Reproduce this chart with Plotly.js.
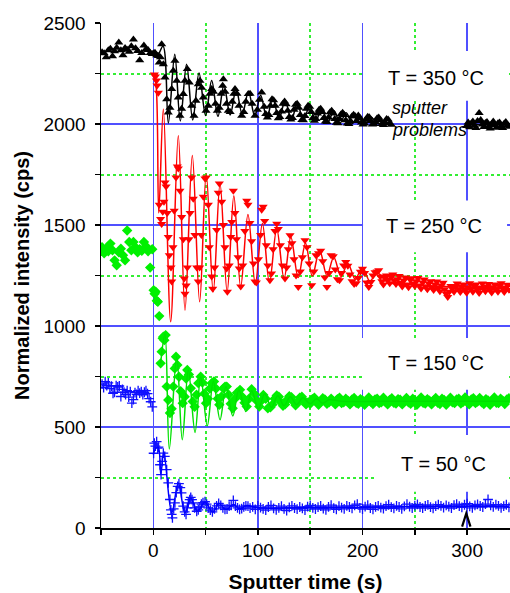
<!DOCTYPE html>
<html><head><meta charset="utf-8">
<script src="https://cdn.plot.ly/plotly-3.0.1.min.js"></script>
<style>html,body{margin:0;padding:0;background:#fff;} #chart{width:510px;height:593px;}</style>
</head><body><div id="chart"></div>
<script>
// ---------- DATA ----------
// sampling grid helper for regularly sampled stretches of a depth profile
function steps(t0, dt, n) { const a = []; for (let i = 0; i < n; i++) a.push(+(t0 + i * dt).toFixed(2)); return a; }

// T = 350 °C
const y350pre = [2355,2350,2330,2365,2372,2335,2360,2378,2403,2365,2340,2376,2368,2358,2385,2418,2375,2362,2315,2352,2388,2370,2366,2352,2346];
const t350osc = [0.5,1.6,3.2,4.8,5.7,6.8,8.0,9.6,11.2,12.8,14.3,15.9,17.6,19.1,20.7,22.4,23.9,25.5,27.1,28.7,30.3,32.5,34.4,36.7,38.9,40.8,43.0,44.6,46.2,47.8,50.4,52.5,54.2,55.8,57.5,59.5,61.2,63.0,64.8,66.3,67.0,68.5,70.0,71.7,73.5,75.5,77.0,78.1,80.0,82.0,84.5,86.5,88.5,90.8,92.5,94.5,97.2,99.5,101.5,103.6];
const y350osc = [2350,2353,2340,2337,2304,2330,2395,2296,2230,2123,2057,2080,2173,2263,2313,2214,2131,2041,2075,2148,2214,2272,2206,2090,2041,2115,2197,2214,2180,2131,2066,2090,2150,2173,2160,2100,2066,2080,2150,2189,2222,2160,2100,2066,2060,2110,2150,2173,2150,2090,2041,2060,2110,2148,2150,2100,2041,2070,2120,2156];
const y350tail = [2085,2050,2032,2045,2090,2122,2118,2090,2055,2028, 2035,2062,2100,2112,2098,2065,2035,2022,2030,2070, 2095,2100,2080,2045,2020,2018,2040,2075,2090,2086, 2060,2030,2016,2025,2052,2070,2076,2060,2030,2012, 2010,2032,2058,2066,2052,2025,2006,2004,2025,2048, 2056,2045,2018,2002,2000,2015,2038,2046,2038,2015, 2042,2030,2008,1998,2002,2022,2036,2034,2015,1998, 2000,2010,2028,2032,2018,2000,1995,2008,2025,2022, 2004,1996];
const y350late = [1990,2008,1984,2002,2012,1992,1980,2015,2054,2020,1998,1985,2005,2010,1988,1978,2000,2012,1995,1982,2004,2008,1990,1980,2002,2010,1994,1986];
const t350fit = [0,3.5,9.3,14.4,20.5,25.8,31.8,37.7,43.7,50.0,55.8,61.8,67.5,73.5,79.2,85.0,91.0,97.0,102.6,108.5,114.3,120.2,126.0,132.0,137.7,143.6,149.4,155.3,161.0,167.0,172.7,178.6,184.4,190.3,196.0,202.0,208.0,214.0,228.0,260,300,340];
const y350fit = [2345,2335,2385,2005,2345,2015,2296,2020,2252,2042,2215,2038,2192,2045,2172,2048,2160,2038,2142,2030,2127,2025,2115,2020,2102,2016,2090,2014,2078,2010,2066,2006,2056,2002,2046,2000,2035,2003,2010,null,1998,1996];

// T = 250 °C
const t250osc = [1.0,2.0,3.0,3.6,4.8,5.7,7.0,8.0,9.0,10.2,11.2,12.2,13.3,14.3,15.3,16.9,17.6,18.8,20.0,21.7,23.0,23.9,25.5,27.1,28.7,29.6,30.3,31.4,32.5,34.1,35.2,36.7,38.2,39.8,41.5,43.0,44.3,46.0,47.8,49.4,50.6,52.6,53.5,55.8,56.8,58.6,60.6,62.1,63.1,65.4,67.0,68.5,70.2,70.8,72.5,74.0,75.0,76.5,78.0,79.5,81.0,82.2,83.6,85.5,87.5,89.3,90.5,92.3,94.0,95.8,97.2,98.5,100.5,102.5,103.6,105.0,106.5,108.0,109.5,111.5,113.0,114.5,116.3,118.0,119.5,121.5,123.5,125.9,127.5,129.0,130.7,132.5,134.5,136.5,138.6,140.5,142.5,145.0,147.0,149.0,151.4,153.5,155.5];
const y250osc = [2245,2235,2215,2190,2155,1600,1530,1505,1565,1615,1710,1690,1560,1440,1350,1290,1220,1390,1570,1735,1790,1780,1670,1540,1430,1235,1160,1200,1290,1430,1560,1735,1630,1450,1290,1220,1290,1450,1640,1730,1735,1600,1390,1245,1185,1290,1475,1660,1705,1615,1500,1390,1285,1170,1300,1440,1515,1670,1560,1430,1340,1285,1195,1300,1470,1620,1600,1510,1420,1310,1220,1215,1330,1450,1575,1590,1520,1400,1300,1226,1260,1380,1470,1506,1480,1400,1300,1235,1290,1380,1449,1410,1330,1250,1193,1270,1340,1424,1390,1310,1202,1270,1350];
const y250mid = [1360,1372,1320,1240,1193,1262,1350,1345,1280,1232,1226,1262,1300,1317,1298,1255,1222,1208,1212,1238,1268,1284,1262,1215,1193,1218,1250,1266,1270];
const y250tail = [1276,1245,1222,1205,1238,1250,1228,1212,1243,1255,1226,1208,
                  1232,1248,1214,1196,1225,1240,1205,1192,1230,1236,1210,1198,
                  1222,1238,1200,1186,1215,1230,1195,1182,1210,1222,1190,1178,
                  1205,1220,1188,1172,1200,1214,1182,1160,1144,1170,1198,1185,
                  1170,1196,1210,1182,1168,1195,1205,1178,1165,1192,1212,1184,
                  1170,1198,1206,1180,1163,1190,1210,1186,1172,1195,1208,1178,
                  1166,1192,1205,1182,1170,1198,1212,1186,1168,1190,1204,1180];
const t250fit = [0,2.5,5.2,9.6,16.6,23.9,30.3,37.3,44.3,50.6,57.3,63.8,70.6,77.0,83.5,90.5,97.5,104.3,111.0,118.0,125.0,131.5,138.5,145.5,152.0,159.0,166.0,172.5,179.5,186.0,193.0,200.0,207.0,214.0,225.0,250,280,310,340];
const y250fit = [2250,2200,1560,2074,1021,1942,1078,1844,1120,1753,1169,1705,1169,1645,1193,1552,1210,1508,1215,1480,1235,1440,1240,1410,1248,1375,1250,1340,1245,1310,1232,1290,1222,1262,1215,1205,1195,1190,1188];

// T = 150 °C
const y150pre = [1390,1360,1385,1370,1408,1375,1325,1301,1365,1383,1350,1325,1473,1416,1375,1416,1390,1365,1380,1372,1416,1395,1370,1289,1380];
const t150osc = [0.3,1.3,2.3,3.3,4.3,5.7,7.0,8.0,9.0,9.6,10.6,11.8,12.8,14.3,15.9,17.5,19.1,20.5,21.7,23.0,24.6,26.2,28.1,30.0,31.3,32.5,34.0,35.8,37.7,39.5,41.3,43.0,45.3,47.0,48.7,50.4,52.2,54.0,55.8,58.0,60.0,61.6,63.1,65.0,67.0,68.6,70.2,72.0,74.0,75.9,78.0,80.0,82.9,85.0,87.2,89.3,91.5,94.0,96.5,98.8,101.3,103.3,105.2,107.5,109.5];
const y150osc = [1177,1160,1170,1125,1120,1049,815,873,939,947,930,955,700,634,569,590,700,790,848,807,749,677,618,650,740,782,760,692,626,600,660,717,749,720,665,618,640,690,717,725,690,640,610,650,690,700,700,660,615,593,640,670,684,650,620,601,640,687,665,630,601,630,659,640,593];
const y150tail = [598,612,640,656,650,622,605,612,635,652, 648,625,608,620,645,650,632,612,622,615,
                  638,645,630,610,625,642,636,615,622,640, 628,612,638,645,618,622,640,630,612,636,
                  644,620,615,638,632,610,628,646,625,614, 636,640,618,622,645,628,612,634,642,620,
                  616,638,635,612,626,644,622,615,640,632, 610,628,646,620,616,638,630,612,632,644,
                  620,614,640,634,610,630,645,622,618,636, 640,616,624,646,628,612,636,642,618,626,
                  644,622,614,638,632,610,630,646,620,618, 640,630,614,636,642];
const t150fit = [7.0,11.2,15.3,22.4,27.7,33.5,39.9,45.3,51.6,57.4,63.8,69.5,76.0,81.8,88.5,94.0,100.5,106.5,113.0,119.0,125.0,131.0,137.0,143.0,150.0,156.0,162.0,168.0,180,220,260,300,340];
const y150fit = [815,960,391,848,437,782,473,749,506,725,536,700,555,684,577,680,590,665,597,655,605,650,610,645,615,640,618,635,627,627,627,627,627];

// T = 50 °C
const y50pre = [712,695,725,705,718,690,702,667,672,705,698,703,651,686,672,660,680,648,675,618,636,670,662,680,668,675,660,672,680,665,640,625,600];
const t50osc = [0.3,1.0,2.0,3.2,4.2,5.0,6.4,7.4,8.5,9.6,11.0,12.8,14.3,15.9,16.8,17.6,18.3,19.5,20.7,22.0,23.3,24.5,25.8,27.0,28.6,30.0,31.3,32.5,33.5,34.8,35.8,37.0,38.0,39.5,41.5,43.0,44.5,46.0,47.5,49.4,51.0,52.5,54.5,56.5,58.5,60.5,62.5,64.5,66.5,68.5,70.5,72.5,74.5,76.5,78.5,80.5,82.5,84.5,86.5,88.5,90.5];
const y50osc = [370,420,405,428,395,400,313,264,330,371,355,289,223,141,90,67,50,95,124,175,206,220,200,174,108,80,67,100,124,140,152,140,124,100,83,90,105,118,125,130,118,100,88,80,95,110,122,112,100,92,94,108,112,137,108,100,92,96,105,110,108];
const y50tail = [98,105,92,110,101,95,88,104,112,97, 90,100,108,95,86,102,110,99,93,104, 97,88,106,112,100,94,103,109,96,90, 105,113,98,92,108,101,95,110,104,97, 112,118,100,94,106,113,99,92,105,110, 101,96,108,115,103,97,110,104,95,107, 118,106,99,111,117,104,98,109,114,103, 97,108,116,110,101,112,106,99,113,118, 108,102,115,120,107,100,112,117,109,104, 118,141,112,105,116,110,100,108,115,102];
const t50fit = [0,2.5,4.8,7.2,10.0,17.6,23.9,30.3,35.8,42.1,49.4,56.8,62.8,69.5,76.5,82.9,89.3,100,140,200,260,300,340];
const y50fit = [363,396,398,265,378,75,223,75,149,83,127,78,121,91,116,95,111,100,100,103,106,108,106];

const labels = ['T = 350 °C', 'T = 250 °C', 'T = 150 °C', 'T = 50 °C'];

// ---------- assemble ----------
const t350 = steps(-49, 2, y350pre.length).concat(t350osc, steps(106, 1.5, y350tail.length), steps(299.5, 1.5, y350late.length));
const v350 = y350pre.concat(y350osc, y350tail, y350late);
const t250 = t250osc.concat(steps(158, 2, y250mid.length), steps(215.5, 1.5, y250tail.length));
const v250 = y250osc.concat(y250mid, y250tail);
const t150 = steps(-49, 2, y150pre.length).concat(t150osc, steps(112, 2, y150tail.length));
const v150 = y150pre.concat(y150osc, y150tail);
const t50 = steps(-49, 1.5, y50pre.length).concat(t50osc, steps(92.5, 2.5, y50tail.length));
const v50 = y50pre.concat(y50osc, y50tail);

function pts(x, y, color, symbol, size) {
  return {x, y, type: 'scatter', mode: 'markers', hoverinfo: 'skip',
    marker: {color, symbol, size, line: {width: 0}}};
}
function fit(x, y, color) {
  return {x, y, type: 'scatter', mode: 'lines', hoverinfo: 'skip', connectgaps: false,
    line: {color, width: 1.5, shape: 'spline', smoothing: 1}};
}

const traces = [
  pts(t350, v350, '#000000', 'triangle-up', 8),
  fit(t350fit, y350fit, '#000000'),
  pts(t250, v250, '#ff0000', 'triangle-down', 8),
  fit(t250fit, y250fit, '#ff0000'),
  pts(t150, v150, '#00f000', 'diamond', 8),
  fit(t150fit, y150fit, '#00e000'),
  {x: t50, y: v50, type: 'scatter', mode: 'markers', hoverinfo: 'skip',
   marker: {color: '#1010ff', symbol: 'cross-thin', size: 7, line: {color: '#1010ff', width: 1.3}}},
  fit(t50fit, y50fit, '#0000ff')
];

const FONT = 'Liberation Sans, Arial, sans-serif';
const gridBlue = 'rgb(80,80,255)';
const gridGreen = '#33ee33';

function box(x0, x1, y0, y1) {
  return {type: 'rect', xref: 'x', yref: 'y', x0, x1, y0, y1, fillcolor: '#ffffff', line: {width: 0}, layer: 'between'};
}
function lab(text, x, y, size, anchor) {
  return {text, x, y, xref: 'x', yref: 'y', showarrow: false, xanchor: anchor || 'center', yanchor: 'middle',
    font: {family: FONT, size: size, color: '#000'}};
}

const layout = {
  width: 510, height: 593,
  margin: {l: 101, r: 0, t: 23, b: 65, pad: 0},
  paper_bgcolor: '#fff', plot_bgcolor: '#fff',
  showlegend: false,
  font: {family: FONT, size: 19, color: '#000'},
  xaxis: {
    range: [-50, 341], tickmode: 'linear', tick0: 0, dtick: 100,
    ticks: 'outside', ticklen: 5, tickwidth: 1.5, tickcolor: '#000',
    showline: true, linecolor: '#000', linewidth: 1.5, zeroline: false,
    showgrid: true, gridcolor: gridBlue, gridwidth: 1.3,
    minor: {dtick: 50, tick0: 0, ticks: 'outside', ticklen: 5, tickwidth: 1.5, tickcolor: '#000',
            showgrid: true, gridcolor: gridGreen, griddash: 'dot', gridwidth: 2},
    tickfont: {size: 19},
    title: {text: '<b>Sputter time (s)</b>', font: {size: 21}, standoff: 14}
  },
  xaxis2: {
    overlaying: 'x', side: 'top', anchor: 'y', range: [-50, 341],
    dtick: 50, tick0: 0, ticks: 'inside', ticklen: 4, tickwidth: 1.5, tickcolor: '#000',
    showline: true, linecolor: '#000', linewidth: 1.5, showticklabels: false, showgrid: false, zeroline: false
  },
  yaxis: {
    range: [0, 2500], dtick: 500, tick0: 0,
    ticks: 'outside', ticklen: 5, tickwidth: 1.5, tickcolor: '#000',
    showline: true, linecolor: '#000', linewidth: 1.5, zeroline: false,
    showgrid: true, gridcolor: gridBlue, gridwidth: 1.3,
    minor: {dtick: 250, tick0: 0, ticks: 'outside', ticklen: 5, tickwidth: 1.5, tickcolor: '#000',
            showgrid: true, gridcolor: gridGreen, griddash: 'dot', gridwidth: 2},
    tickfont: {size: 19}, ticklabelstandoff: 5,
    title: {text: '<b>Normalized intensity (cps)</b>', font: {size: 20}, standoff: 8}
  },
  shapes: [
    box(202.4, 338.2, 2115, 2362),
    box(200.5, 338.2, 1365, 1621),
    box(199.5, 338.2, 684, 940),
    box(212, 338.2, 180, 461),
    {type: 'path', xref: 'x', yref: 'y', path: 'M 295.2,7 L 299.2,72 L 303.2,7',
     line: {color: '#000', width: 2.2}, layer: 'above'}
  ],
  annotations: [
    lab(labels[0], 270.3, 2229, 20),
    lab(labels[1], 268.4, 1493, 20),
    lab(labels[2], 270.3, 817, 20),
    lab(labels[3], 277.4, 315, 20),
    lab('<i>sputter</i>', 226.5, 2080, 18, 'left'),
    lab('<i>problems</i>', 226.5, 1968, 18, 'left')
  ]
};

Plotly.newPlot('chart', traces, layout, {staticPlot: true, displayModeBar: false});
</script></body></html>
